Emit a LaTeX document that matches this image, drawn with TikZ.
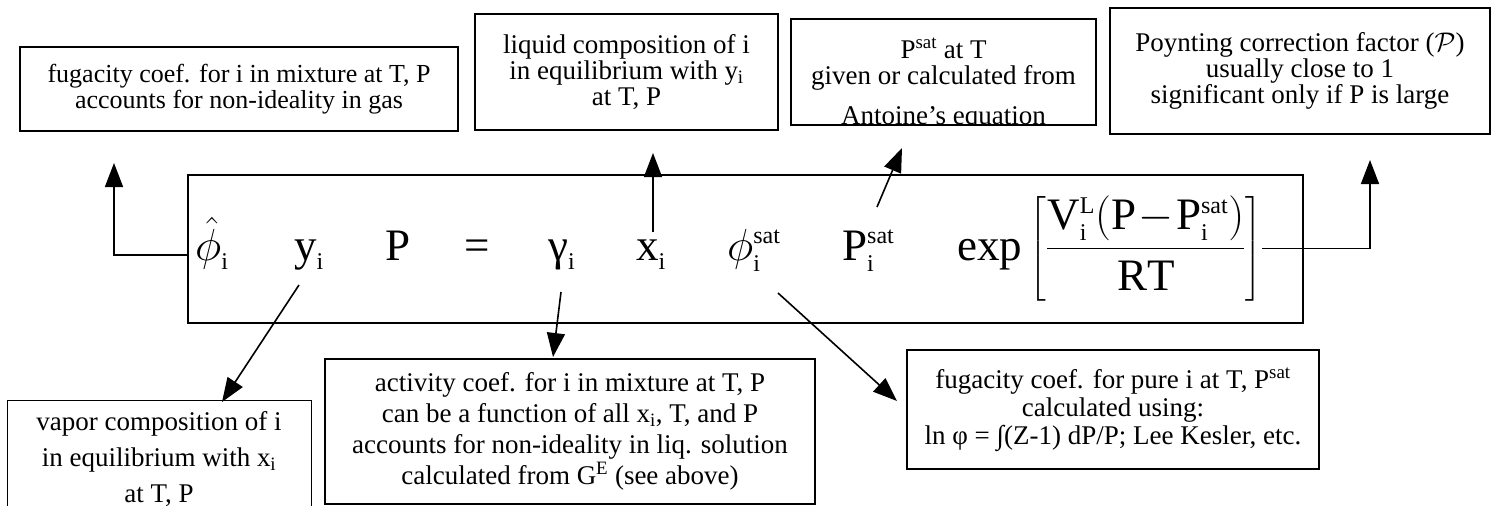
\RequirePackage{fix-cm}
\documentclass[tikz,border=0pt]{standalone}
\usepackage{amsmath}
\usepackage{fontspec}
\setmainfont{Liberation Serif}
\usetikzlibrary{arrows.meta,positioning}
\DeclareMathSizes{45}{45}{24}{18}

\newcommand{\eqsize}{\fontsize{45}{54}\selectfont}
\newcommand{\rmi}{\mathrm{i}}
\newcommand{\lowi}{\raisebox{-9pt}{\fontsize{24}{24}\selectfont i}}

\begin{document}
\begin{tikzpicture}[x=1pt,y=-1pt,
		note/.style={draw, line width=1.3pt, align=center, inner sep=0pt, font=\fontsize{27}{26}\selectfont},
		sym/.style={anchor=base west, inner sep=0pt, font=\eqsize},
		pointer/.style={-{Triangle[length=24pt,width=18pt]}, line width=1.6pt}
		]
		\useasboundingbox (0,0) rectangle (1494,506);
		\clip (0,0) rectangle (1494,506);
		
		% the equation
		\node[draw, line width=2.5pt, minimum width=1115pt, minimum height=148pt, inner sep=0pt] (eqbox) at (745.5,249) {};
		\node[sym] (phihat) at (195,260) {$\hat{\phi}$\lowi};
		\node[sym] (yi) at (294,260) {y\lowi};
		\node[sym] (pp) at (385,260) {P};
		\node[sym] (eq) at (464,260) {=};
		\node[sym] (gam) at (548,260) {γ\lowi};
		\node[sym] (xi) at (636,260) {x\lowi};
		\node[sym] (phisat) at (727,260) {$\phi_{\rmi}^{\mathrm{sat}}$};
		\node[sym] (psat) at (842,260) {$\mathrm{P}_{\rmi}^{\mathrm{sat}}$};
		\node[sym] (poynt) at (957,260) {$\exp\left[\dfrac{\mathrm{V}_{\rmi}^{\mathrm{L}}(\mathrm{P}\!-\!\mathrm{P}_{\rmi}^{\mathrm{sat}})}{\mathrm{RT}}\right]$};
		
		% notes above
		\node[note, font=\fontsize{26}{26}\selectfont, minimum width=438pt, minimum height=84pt] (mixfug) at (239,89) {
			fugacity coef. for i in mixture at T, P\\
			accounts for non-ideality in gas
		};
		\node[note, minimum width=303pt, minimum height=116pt] (liqcomp) at (626.5,72) {
			liquid composition of i\\
			in equilibrium with y\textsubscript{i}\\
			at T, P
		};
		\begin{scope}
			\clip (791,19) rectangle (1096,125);
			\node[align=center, inner sep=0pt, anchor=base, font=\fontsize{27}{26}\selectfont] (psattext) at (943.5,124) {
				P\textsuperscript{sat} at T\\
				given or calculated from\\[14pt]
				Antoine’s equation
			};
		\end{scope}
		\node[note, minimum width=305pt, minimum height=106pt] (psatnote) at (943.5,72) {};
		\node[note, font=\fontsize{27}{23}\selectfont, minimum width=380pt, minimum height=126pt] (poyntnote) at (1300,71) {
			Poynting correction factor ($\mathcal{P}$)\\
			usually close to 1\\
			significant only if P is large
		};
		
		% notes below
		\node[draw, line width=1.3pt, inner sep=0pt, anchor=north west, minimum width=304pt, minimum height=140pt] (vapbox) at (7,400) {};
		\node[align=center, inner sep=0pt, anchor=base, font=\fontsize{27}{36}\selectfont] (vaptext) at (159,502) {
			vapor composition of i\\
			in equilibrium with x\textsubscript{i}\\
			at T, P
		};
		\node[note, font=\fontsize{27}{31}\selectfont, minimum width=490pt, minimum height=145pt] (actcoef) at (570,431.5) {
			activity coef. for i in mixture at T, P\\
			can be a function of all x\textsubscript{i}, T, and P\\
			accounts for non-ideality in liq. solution\\
			calculated from G\textsuperscript{E} (see above)
		};
		\node[note, font=\fontsize{27}{28}\selectfont, minimum width=412pt, minimum height=119pt] (purefug) at (1113,409.5) {
			fugacity coef. for pure i at T, P\textsuperscript{sat}\\
			calculated using:\\
			ln φ = ∫(Z-1) dP/P; Lee Kesler, etc.
		};
		
		% arrow ends
		\coordinate (tipA) at (114,163);
		\coordinate (xiTop) at (653,232);
		\coordinate (tipB) at (653,153);
		\coordinate (psatTop) at (877,207);
		\coordinate (tipC) at (902,148);
		\coordinate (tipD) at (1370,160);
		\coordinate (yiFoot) at (299,285);
		\coordinate (tipV) at (222,402);
		\coordinate (gamFoot) at (561,292);
		\coordinate (tipG) at (553,357);
		\coordinate (phiFoot) at (778,293);
		\coordinate (tipF) at (897,401);
		
		\draw[pointer] (eqbox.west |- 0,255) -| (tipA);
		\draw[pointer] (xiTop) -- (tipB);
		\draw[pointer] (psatTop) -- (tipC);
		\draw[pointer] (poynt.east) -| (tipD);
		\draw[pointer] (yiFoot) -- (tipV);
		\draw[pointer] (gamFoot) -- (tipG);
		\draw[pointer] (phiFoot) -- (tipF);
		
	\end{tikzpicture}
\end{document}
